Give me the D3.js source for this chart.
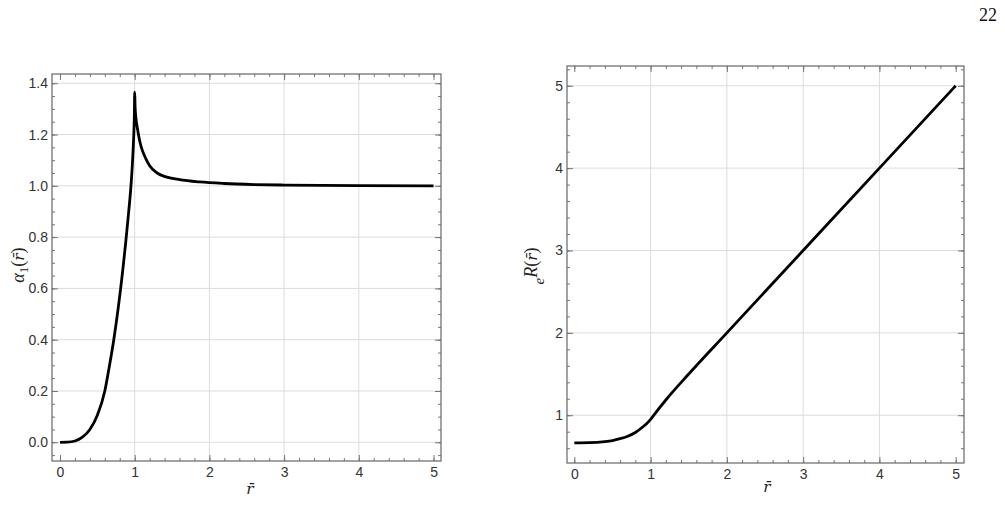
<!DOCTYPE html>
<html>
<head>
<meta charset="utf-8">
<script src="https://cdn.jsdelivr.net/npm/d3@7"></script>
<style>
  body { margin: 0; background: #fff; }
  svg { display: block; }
</style>
</head>
<body>
<svg width="1005" height="517"></svg>
<script>
// values
const alphaR = [0, 0.1, 0.2, 0.3, 0.4, 0.5, 0.6, 0.66, 0.72, 0.78, 0.84, 0.88, 0.92, 0.95, 0.97, 0.985, 0.995, 1.0,
                1.005, 1.01, 1.02, 1.03, 1.05, 1.075, 1.1, 1.15, 1.2, 1.3, 1.43, 1.6, 1.87, 2.2, 2.6, 3, 4, 5];
const alphaV = [0, 0.0005, 0.005, 0.02, 0.05, 0.105, 0.2, 0.295, 0.4, 0.525, 0.67, 0.78, 0.9, 1.0, 1.09, 1.18, 1.27, 1.365,
                1.31, 1.285, 1.255, 1.235, 1.2, 1.165, 1.14, 1.105, 1.078, 1.05, 1.034, 1.024, 1.015, 1.009, 1.005, 1.003, 1.001, 1.0];

const expR = [0, 0.2, 0.4, 0.5, 0.6, 0.7, 0.8, 0.9, 0.95, 1.0, 1.05, 1.1, 1.2, 1.5, 2, 3, 4, 5];
const expV = [0.665, 0.667, 0.68, 0.693, 0.715, 0.745, 0.79, 0.86, 0.9, 0.95, 1.01, 1.07, 1.185, 1.5, 2, 3, 4, 5];

const xMajor = [0, 1, 2, 3, 4, 5];
const xMinor = d3.range(0, 5.01, 0.2);
const alphaMajor = [0, 0.2, 0.4, 0.6, 0.8, 1.0, 1.2, 1.4];
const alphaMinor = d3.range(-0.05, 1.44, 0.05);
const expMajor = [1, 2, 3, 4, 5];
const expMinor = d3.range(0.6, 5.21, 0.2);

const svg = d3.select("svg");
const serif = "'Liberation Serif', 'Times New Roman', serif";

function panel(o) {
  const w = o.right - o.left, h = o.bottom - o.top;
  const x = d3.scaleLinear().domain(o.xdom).range([0, w]);
  const y = d3.scaleLinear().domain(o.ydom).range([h, 0]);
  const g = svg.append("g").attr("transform", `translate(${o.left},${o.top})`);

  // grid
  g.append("g").selectAll("line").data(o.yMajor).join("line")
    .attr("x1", 0).attr("x2", w).attr("y1", d => y(d)).attr("y2", d => y(d))
    .attr("stroke", "#dcdcdc").attr("stroke-width", 1);
  g.append("g").selectAll("line").data(xMajor.filter(d => d > 0 && d < 5)).join("line")
    .attr("y1", 0).attr("y2", h).attr("x1", d => x(d)).attr("x2", d => x(d))
    .attr("stroke", "#dcdcdc").attr("stroke-width", 1);

  const tk = (axis, tr, vals, size, fmt, pad) => {
    const a = g.append("g").attr("transform", tr)
      .call(axis.tickValues(vals).tickSize(size).tickPadding(pad || 0)
        .tickFormat(fmt ? fmt : () => ""));
    a.select(".domain").remove();
    a.selectAll(".tick line").attr("stroke", "#777");
    a.selectAll(".tick text").attr("font-family", "'Liberation Sans', Arial, sans-serif")
      .attr("font-size", 14).attr("fill", "#333");
    return a;
  };
  tk(d3.axisBottom(x), `translate(0,${h})`, xMajor, -6, d3.format("d"), 6);
  tk(d3.axisBottom(x), `translate(0,${h})`, xMinor, -3, null);
  tk(d3.axisTop(x), "translate(0,0)", xMajor, -6, null);
  tk(d3.axisTop(x), "translate(0,0)", xMinor, -3, null);
  tk(d3.axisLeft(y), "translate(0,0)", o.yMajor, -6, o.yFmt, 4);
  tk(d3.axisLeft(y), "translate(0,0)", o.yMinor, -3, null);
  tk(d3.axisRight(y), `translate(${w},0)`, o.yMajor, -6, null);
  tk(d3.axisRight(y), `translate(${w},0)`, o.yMinor, -3, null);

  g.append("rect").attr("width", w).attr("height", h)
    .attr("fill", "none").attr("stroke", "#666").attr("stroke-width", 1.2);

  const line = d3.line().x((d, i) => x(o.xs[i])).y(d => y(d)).curve(d3.curveMonotoneX);
  g.append("path").attr("d", line(o.ys))
    .attr("fill", "none").attr("stroke", "#000").attr("stroke-width", 2.8)
    .attr("stroke-linejoin", "round");
  return { g, x, y, w, h };
}

panel({
  left: 52, right: 441, top: 74, bottom: 461,
  xdom: [-0.107, 5.1], ydom: [-0.073, 1.436],
  yMajor: alphaMajor, yMinor: alphaMinor, yFmt: d3.format(".1f"),
  xs: alphaR, ys: alphaV
});
panel({
  left: 567, right: 964, top: 66, bottom: 463,
  xdom: [-0.096, 5.109], ydom: [0.42, 5.24],
  yMajor: expMajor, yMinor: expMinor, yFmt: d3.format("d"),
  xs: expR, ys: expV
});

// r with a bar on top
function rbar(sel) {
  sel.append("tspan").attr("font-style", "italic")
    .attr("font-family", "'DejaVu Serif', serif").attr("font-size", "0.85em").text("r\u0304");
}

// axis titles
[[250, 494], [767, 492]].forEach(([cx, cy]) => {
  const t = svg.append("text").attr("x", cx).attr("y", cy).attr("text-anchor", "middle")
    .attr("font-family", serif).attr("font-size", 18).attr("fill", "#222");
  rbar(t);
});

const l1 = svg.append("text").attr("transform", "translate(24,265) rotate(-90)")
  .attr("text-anchor", "middle").attr("font-family", serif).attr("font-size", 18).attr("fill", "#222");
l1.append("tspan").attr("font-style", "italic").text("α");
l1.append("tspan").attr("font-size", 13).attr("dy", 4).text("1");
l1.append("tspan").attr("dy", -4).text("(");
rbar(l1);
l1.append("tspan").text(")");

const l2 = svg.append("text").attr("transform", "translate(544,266) rotate(-90)")
  .attr("text-anchor", "middle").attr("font-family", serif).attr("font-size", 18).attr("fill", "#222");
l2.append("tspan").attr("font-style", "italic").attr("font-size", 15).text("e");
l2.append("tspan").attr("font-style", "italic").attr("dy", -7).text("R");
l2.append("tspan").text("(");
rbar(l2);
l2.append("tspan").text(")");

// page number
svg.append("text").attr("x", 988).attr("y", 21).attr("text-anchor", "middle")
  .attr("font-family", serif).attr("font-size", 18).attr("fill", "#111").text("22");
</script>
</body>
</html>
